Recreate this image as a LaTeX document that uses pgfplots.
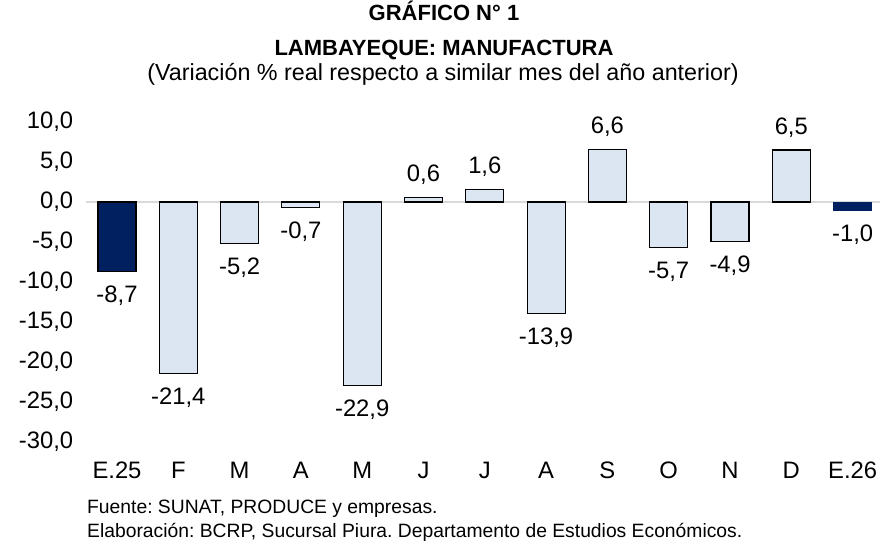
\documentclass[border=0pt]{standalone}
\usepackage{pgfplots}
\pgfplotsset{compat=1.18}
\usepackage{fontspec}
\setmainfont{Liberation Sans}
\definecolor{navy}{RGB}{0,32,96}
\definecolor{lightb}{RGB}{220,230,242}
\definecolor{zline}{RGB}{217,217,217}
\newcommand{\fs}[1]{\fontsize{#1}{#1}\selectfont}
\frenchspacing
\begin{document}
\begin{tikzpicture}
\useasboundingbox (0,0) rectangle (880bp,543bp);
\begin{axis}[
  at={(86.35bp,101bp)}, anchor=south west,
  width=793.65bp, height=320bp, scale only axis,
  xmin=-0.5, xmax=12.447, ymin=-30, ymax=10,
  axis line style={draw=none},
  major tick length=0pt,
  ytick={-30,-25,...,10},
  xtick={0,...,12},
  xticklabels={E.25,F,M,A,M,J,J,A,S,O,N,D,E.26},
  /pgf/number format/assume math mode=true,
  yticklabel style={anchor=east, inner sep=0pt, xshift=-13bp, font=\fs{23.8bp},
    /pgf/number format/fixed, /pgf/number format/fixed zerofill,
    /pgf/number format/precision=1, /pgf/number format/use comma},
  xticklabel style={anchor=base, inner sep=0pt, yshift=-37bp, font=\fs{23.8bp}},
  ybar, bar width=38bp, bar shift=0pt,
  nodes near coords={\pgfmathprintnumber[fixed,fixed zerofill,precision=1,use comma,assume math mode=true]{\pgfplotspointmeta}},
  every node near coord/.append style={font=\fs{23.8bp}, text=black, inner xsep=0pt, inner ysep=12bp},
  clip=false,
]
\draw[zline, line width=1.6bp] (axis cs:-0.5,0) -- (axis cs:12.447,0);
\addplot[fill=navy, draw=black, line width=1.1bp,
  every node near coord/.append style={yshift=-2bp}] coordinates {(0,-8.7)};
\addplot[fill=lightb, draw=black, line width=1.1bp,
  every node near coord/.append style={yshift=-2bp}] coordinates {
(1,-21.4) (2,-5.2) (3,-0.7) (4,-22.9) (7,-13.9) (9,-5.7) (10,-4.9)};
\addplot[fill=lightb, draw=black, line width=1.1bp] coordinates {
(5,0.6) (6,1.6) (8,6.6) (11,6.5)};
\addplot[fill=navy, draw=navy, line width=0.8bp,
  every node near coord/.append style={yshift=-2bp}] coordinates {(12,-1.0)};
\end{axis}
\node[anchor=base, inner sep=0pt, font=\bfseries\fs{22bp}] at (444bp,522.5bp) {GRÁFICO N° 1};
\node[anchor=base, inner sep=0pt, font=\bfseries\fs{22bp}] at (444bp,487bp) {LAMBAYEQUE: MANUFACTURA};
\node[anchor=base, inner sep=0pt, font=\fs{23.3bp}] at (443bp,462bp) {(Variación \% real respecto a similar mes del año anterior)};
\node[anchor=base west, inner sep=0pt, font=\fs{19.3bp}] at (87bp,30bp) {Fuente: SUNAT, PRODUCE y empresas.};
\node[anchor=base west, inner sep=0pt, font=\fs{19.3bp}] at (87bp,6bp) {Elaboración: BCRP, Sucursal Piura. Departamento de Estudios Económicos.};
\end{tikzpicture}
\end{document}
